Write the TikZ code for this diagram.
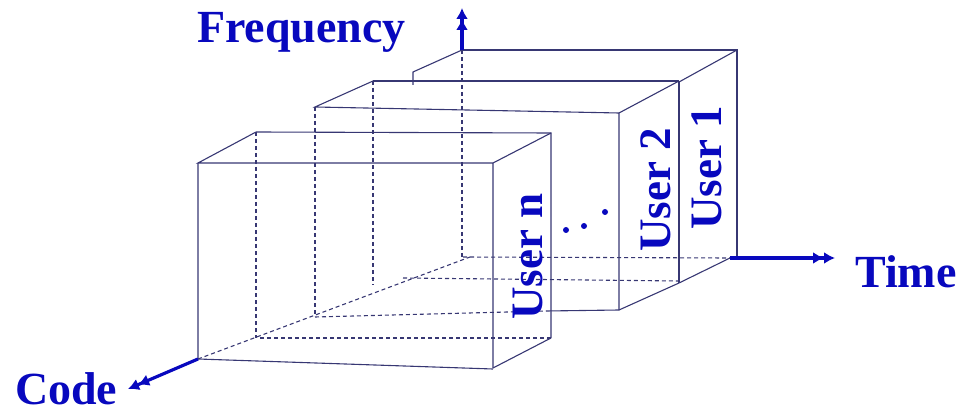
\documentclass[tikz,border=0pt]{standalone}
\usepackage{fontspec}
\setmainfont{Liberation Serif}
\usetikzlibrary{arrows.meta}
\definecolor{lblue}{RGB}{8,8,190}
\definecolor{edgec}{RGB}{55,55,115}
\begin{document}
\begin{tikzpicture}[x=1pt,y=-1pt,
  edge/.style={draw=edgec,line width=1.1pt},
  hid/.style={draw=edgec,line width=1.1pt,dash pattern=on 4pt off 3pt},
  axis/.style={draw=lblue,line width=3.2pt,-{Latex[length=11pt,width=12pt]Latex[length=11pt,width=12pt]}},
  lbl/.style={text=lblue,font=\fontsize{46}{50}\selectfont\bfseries,inner sep=0pt},
  ulbl/.style={lbl,font=\fontsize{45}{50}\selectfont\bfseries,rotate=90,anchor=base west},
  dotc/.style={fill=lblue,draw=none}]
\useasboundingbox (0,0) rectangle (961,414);
% origin / axes coordinates
\coordinate (Ftip) at (462,8);
\coordinate (Ttop) at (462,50);
\coordinate (Tstart) at (730,258);
\coordinate (Ttip) at (835,258);
\coordinate (Cstart) at (198,359);
\coordinate (Ctip) at (128,389);
% User 1 slab
\coordinate (a1) at (462,50);
\coordinate (a2) at (737,50);
\coordinate (a3) at (737,257);
\coordinate (a4) at (413,72);
\coordinate (a5) at (413,85);
\coordinate (a6) at (679,82);
\coordinate (a7) at (679,283);
% User 2 slab
\coordinate (b1) at (373,81);
\coordinate (b2) at (679,81);
\coordinate (b3) at (315,107);
\coordinate (b4) at (619,113);
\coordinate (b5) at (619,310);
\coordinate (b6) at (315,317);
\coordinate (b7) at (546,311);
\coordinate (b8) at (373,285);
\coordinate (b9) at (403,278);
\coordinate (b10) at (679,281);
% User n slab
\coordinate (c1) at (256,132);
\coordinate (c2) at (551,133);
\coordinate (c3) at (198,163);
\coordinate (c4) at (493,163);
\coordinate (c5) at (551,338);
\coordinate (c6) at (493,368);
\coordinate (c7) at (198,359);
\coordinate (c8) at (256,338);
\coordinate (c9) at (260,338);
\coordinate (c10) at (493,369);
% hidden lines
\draw[hid] (Ttop) -- (462,257);
\draw[hid] (Cstart) -- (470,257);
\draw[hid] (463,257) -- (Tstart);
\draw[hid] (b1) -- (b8);
\draw[hid] (b3) -- (315,316);
\draw[hid] (b9) -- (b10);
\draw[hid] (b6) -- (b7);
\draw[hid] (c1) -- (c8);
\draw[hid] (c9) -- (c5);
% User 1 slab edges
\draw[edge] (a1) -- (a2) -- (a3);
\draw[edge] (a2) -- (a6);
\draw[edge] (a1) -- (a4) -- (a5);
\draw[edge] (Tstart) -- (a7);
\draw[edge] (a6) -- (a7);
% User 2 slab edges
\draw[edge] (b1) -- (b2);
\draw[edge] (b1) -- (b3) -- (b4) -- (b5);
\draw[edge] (b2) -- (b4);
\draw[edge] (a7) -- (b5);
\draw[edge] (b7) -- (b5);
% User n slab edges
\draw[edge] (c1) -- (c2) -- (c5);
\draw[edge] (c1) -- (c3) -- (c4) -- (c6);
\draw[edge] (c2) -- (c4);
\draw[edge] (c5) -- (c6);
\draw[edge] (c3) -- (c7) -- (c10);
% axes
\draw[axis] (Ttop) -- (Ftip);
\draw[axis] (Tstart) -- (Ttip);
\draw[axis] (Cstart) -- (Ctip);
% labels
\node[lbl,anchor=base west] (freq) at (197,43) {Frequency};
\node[lbl,anchor=base west] (time) at (855,287) {Time};
\node[lbl,anchor=base west] (code) at (15,404) {Code};
\node[ulbl] (u1) at (721,230) {User 1};
\node[ulbl] (u2) at (670,252) {User 2};
\node[ulbl] (un) at (542,320) {User n};
% dots
\fill[dotc] (566,230) circle (3pt);
\fill[dotc] (584,226) circle (3pt);
\fill[dotc] (605,212) circle (3pt);
\end{tikzpicture}
\end{document}
